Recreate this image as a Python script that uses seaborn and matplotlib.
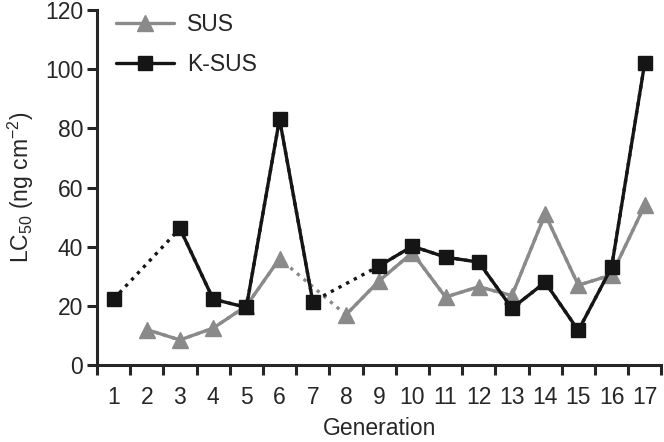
import numpy as np
import pandas as pd
import matplotlib
matplotlib.use("Agg")
import matplotlib.pyplot as plt
import seaborn as sns

generations = list(range(1, 18))
sus = [np.nan, 12, 8.5, 12.5, 20, 36, np.nan, 17, 28.5, 38, 23, 26.5, 23.5, 51, 27, 30.5, 54]
k_sus = [22.3, np.nan, 46.2, 22.3, 19.5, 83.2, 21.5, np.nan, 33.5, 40.2, 36.5, 34.8, 19.2, 28, 11.7, 33, 102.2]

df = pd.DataFrame({"Generation": generations, "SUS": sus, "K-SUS": k_sus})

sns.set_style("ticks")
plt.rcParams['font.family'] = ['Liberation Sans', 'DejaVu Sans']
plt.rcParams['mathtext.fontset'] = 'custom'
plt.rcParams['mathtext.rm'] = 'Liberation Sans'
plt.rcParams['mathtext.it'] = 'Liberation Sans'

fs = 16.5
fig = plt.figure(figsize=(6.64, 4.42), dpi=100)
ax = fig.add_axes([0.146, 0.174, 0.85, 0.803])

styles = {
    "SUS": dict(color="#8a8a8a", marker="^", ms=12),
    "K-SUS": dict(color="#151515", marker="s", ms=10),
}

for name in ["SUS", "K-SUS"]:
    st = styles[name]
    # dotted connectors across missing generations
    sub = df.dropna(subset=[name])
    sns.lineplot(data=sub, x="Generation", y=name, ax=ax, color=st["color"],
                 linestyle=(0, (1, 1.6)), lw=2.4, legend=False)
    # solid segments, broken at missing generations
    ax.plot(df["Generation"], df[name], color=st["color"], lw=2.4,
            marker=st["marker"], ms=st["ms"], mec=st["color"], mfc=st["color"],
            label=name, zorder=3)

ax.set_xlim(0.5, 17.5)
ax.set_ylim(0, 120)
ax.set_yticks(range(0, 121, 20))
ax.set_xticks(np.arange(0.5, 18, 1))
ax.set_xticklabels([])
ax.set_xticks(generations, minor=True)
ax.set_xticklabels([str(g) for g in generations], minor=True)
ax.tick_params(axis="x", which="minor", length=0, pad=15, labelsize=fs)
ax.tick_params(axis="x", which="major", length=7, width=2.2, direction="out")
ax.tick_params(axis="y", length=7, width=2.2, labelsize=fs, pad=3)

for s in ["left", "bottom"]:
    ax.spines[s].set_linewidth(2.2)
for s in ["top", "right"]:
    ax.spines[s].set_visible(False)

ax.set_xlabel("Generation", fontsize=fs, labelpad=6)
ax.set_ylabel("LC$_{50}$ (ng cm$^{-2}$)", fontsize=fs, labelpad=6)

ax.legend(loc="upper left", frameon=False, fontsize=fs, handlelength=2.5,
          borderaxespad=0.2, bbox_to_anchor=(0.01, 1.03), labelspacing=0.75,
          handletextpad=0.6)

fig.savefig("out.png", dpi=100)
